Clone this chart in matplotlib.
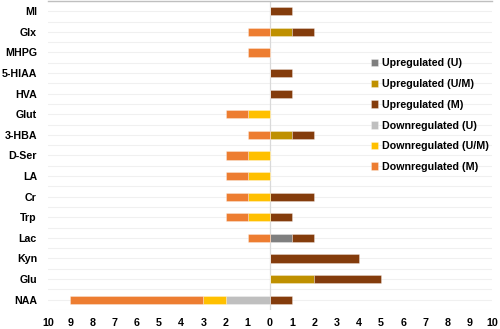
import numpy as np
import matplotlib.pyplot as plt
from matplotlib.ticker import MultipleLocator, FuncFormatter

plt.rcParams['font.family'] = ['Liberation Sans', 'DejaVu Sans']
plt.rcParams['font.weight'] = 'bold'

metabolites = ['MI', 'Glx', 'MHPG', '5-HIAA', 'HVA', 'Glut', '3-HBA', 'D-Ser',
               'LA', 'Cr', 'Trp', 'Lac', 'Kyn', 'Glu', 'NAA']

# counts of studies per direction / sample type
up_u = [0, 0, 0, 0, 0, 0, 0, 0, 0, 0, 0, 1, 0, 0, 0]
up_um = [0, 1, 0, 0, 0, 0, 1, 0, 0, 0, 0, 0, 0, 2, 0]
up_m = [1, 1, 0, 1, 1, 0, 1, 0, 0, 2, 1, 1, 4, 3, 1]
down_u = [0, 0, 0, 0, 0, 0, 0, 0, 0, 0, 0, 0, 0, 0, 2]
down_um = [0, 0, 0, 0, 0, 1, 0, 1, 1, 1, 1, 0, 0, 0, 1]
down_m = [0, 1, 1, 0, 0, 1, 1, 1, 1, 1, 1, 1, 0, 0, 6]

col_up_u = '#7f7f7f'
col_up_um = '#bf9000'
col_up_m = '#843c0c'
col_down_u = '#bfbfbf'
col_down_um = '#ffc000'
col_down_m = '#ed7d31'

y = np.arange(len(metabolites))
h = 0.4

fig = plt.figure(figsize=(5.0, 3.29), dpi=100)
ax = fig.add_axes([0.096, 0.058, 0.888, 0.939])

kw = dict(height=h, edgecolor=(1, 1, 1, 0.35), linewidth=0.6, zorder=3)

# upregulated to the right
u1 = np.array(up_u)
u2 = np.array(up_um)
u3 = np.array(up_m)
ax.barh(y, u1, color=col_up_u, label='Upregulated (U)', **kw)
ax.barh(y, u2, left=u1, color=col_up_um, label='Upregulated (U/M)', **kw)
ax.barh(y, u3, left=u1 + u2, color=col_up_m, label='Upregulated (M)', **kw)

# downregulated to the left
d1 = -np.array(down_u)
d2 = -np.array(down_um)
d3 = -np.array(down_m)
ax.barh(y, d1, color=col_down_u, label='Downregulated (U)', **kw)
ax.barh(y, d2, left=d1, color=col_down_um, label='Downregulated (U/M)', **kw)
ax.barh(y, d3, left=d1 + d2, color=col_down_m, label='Downregulated (M)', **kw)

ax.set_xlim(-10, 10)
ax.set_ylim(len(metabolites) - 0.5, -0.5)
ax.set_yticks(y)
ax.set_yticklabels(metabolites, fontsize=7.7, fontweight='bold')
ax.xaxis.set_major_locator(MultipleLocator(1))
ax.xaxis.set_major_formatter(FuncFormatter(lambda v, p: f'{abs(int(round(v)))}'))
ax.tick_params(axis='x', labelsize=7.7, length=0, pad=6)
ax.tick_params(axis='y', which='both', length=0, pad=8)

ax.yaxis.set_minor_locator(MultipleLocator(0.5))
ax.grid(True, axis='y', which='both', color='#f0f0f0', linewidth=0.8, zorder=0)
ax.axvline(0, color='#d9d9d9', linewidth=0.9, zorder=2)

for s in ['left', 'right', 'bottom']:
    ax.spines[s].set_visible(False)
ax.spines['top'].set_color('#bfbfbf')
ax.spines['top'].set_linewidth(1.0)

leg = ax.legend(loc='upper left', bbox_to_anchor=(0.705, 0.845), frameon=False,
                fontsize=7.7, handlelength=0.7, handleheight=0.7,
                handletextpad=0.4, labelspacing=1.0)

fig.savefig('out.png', dpi=100)
